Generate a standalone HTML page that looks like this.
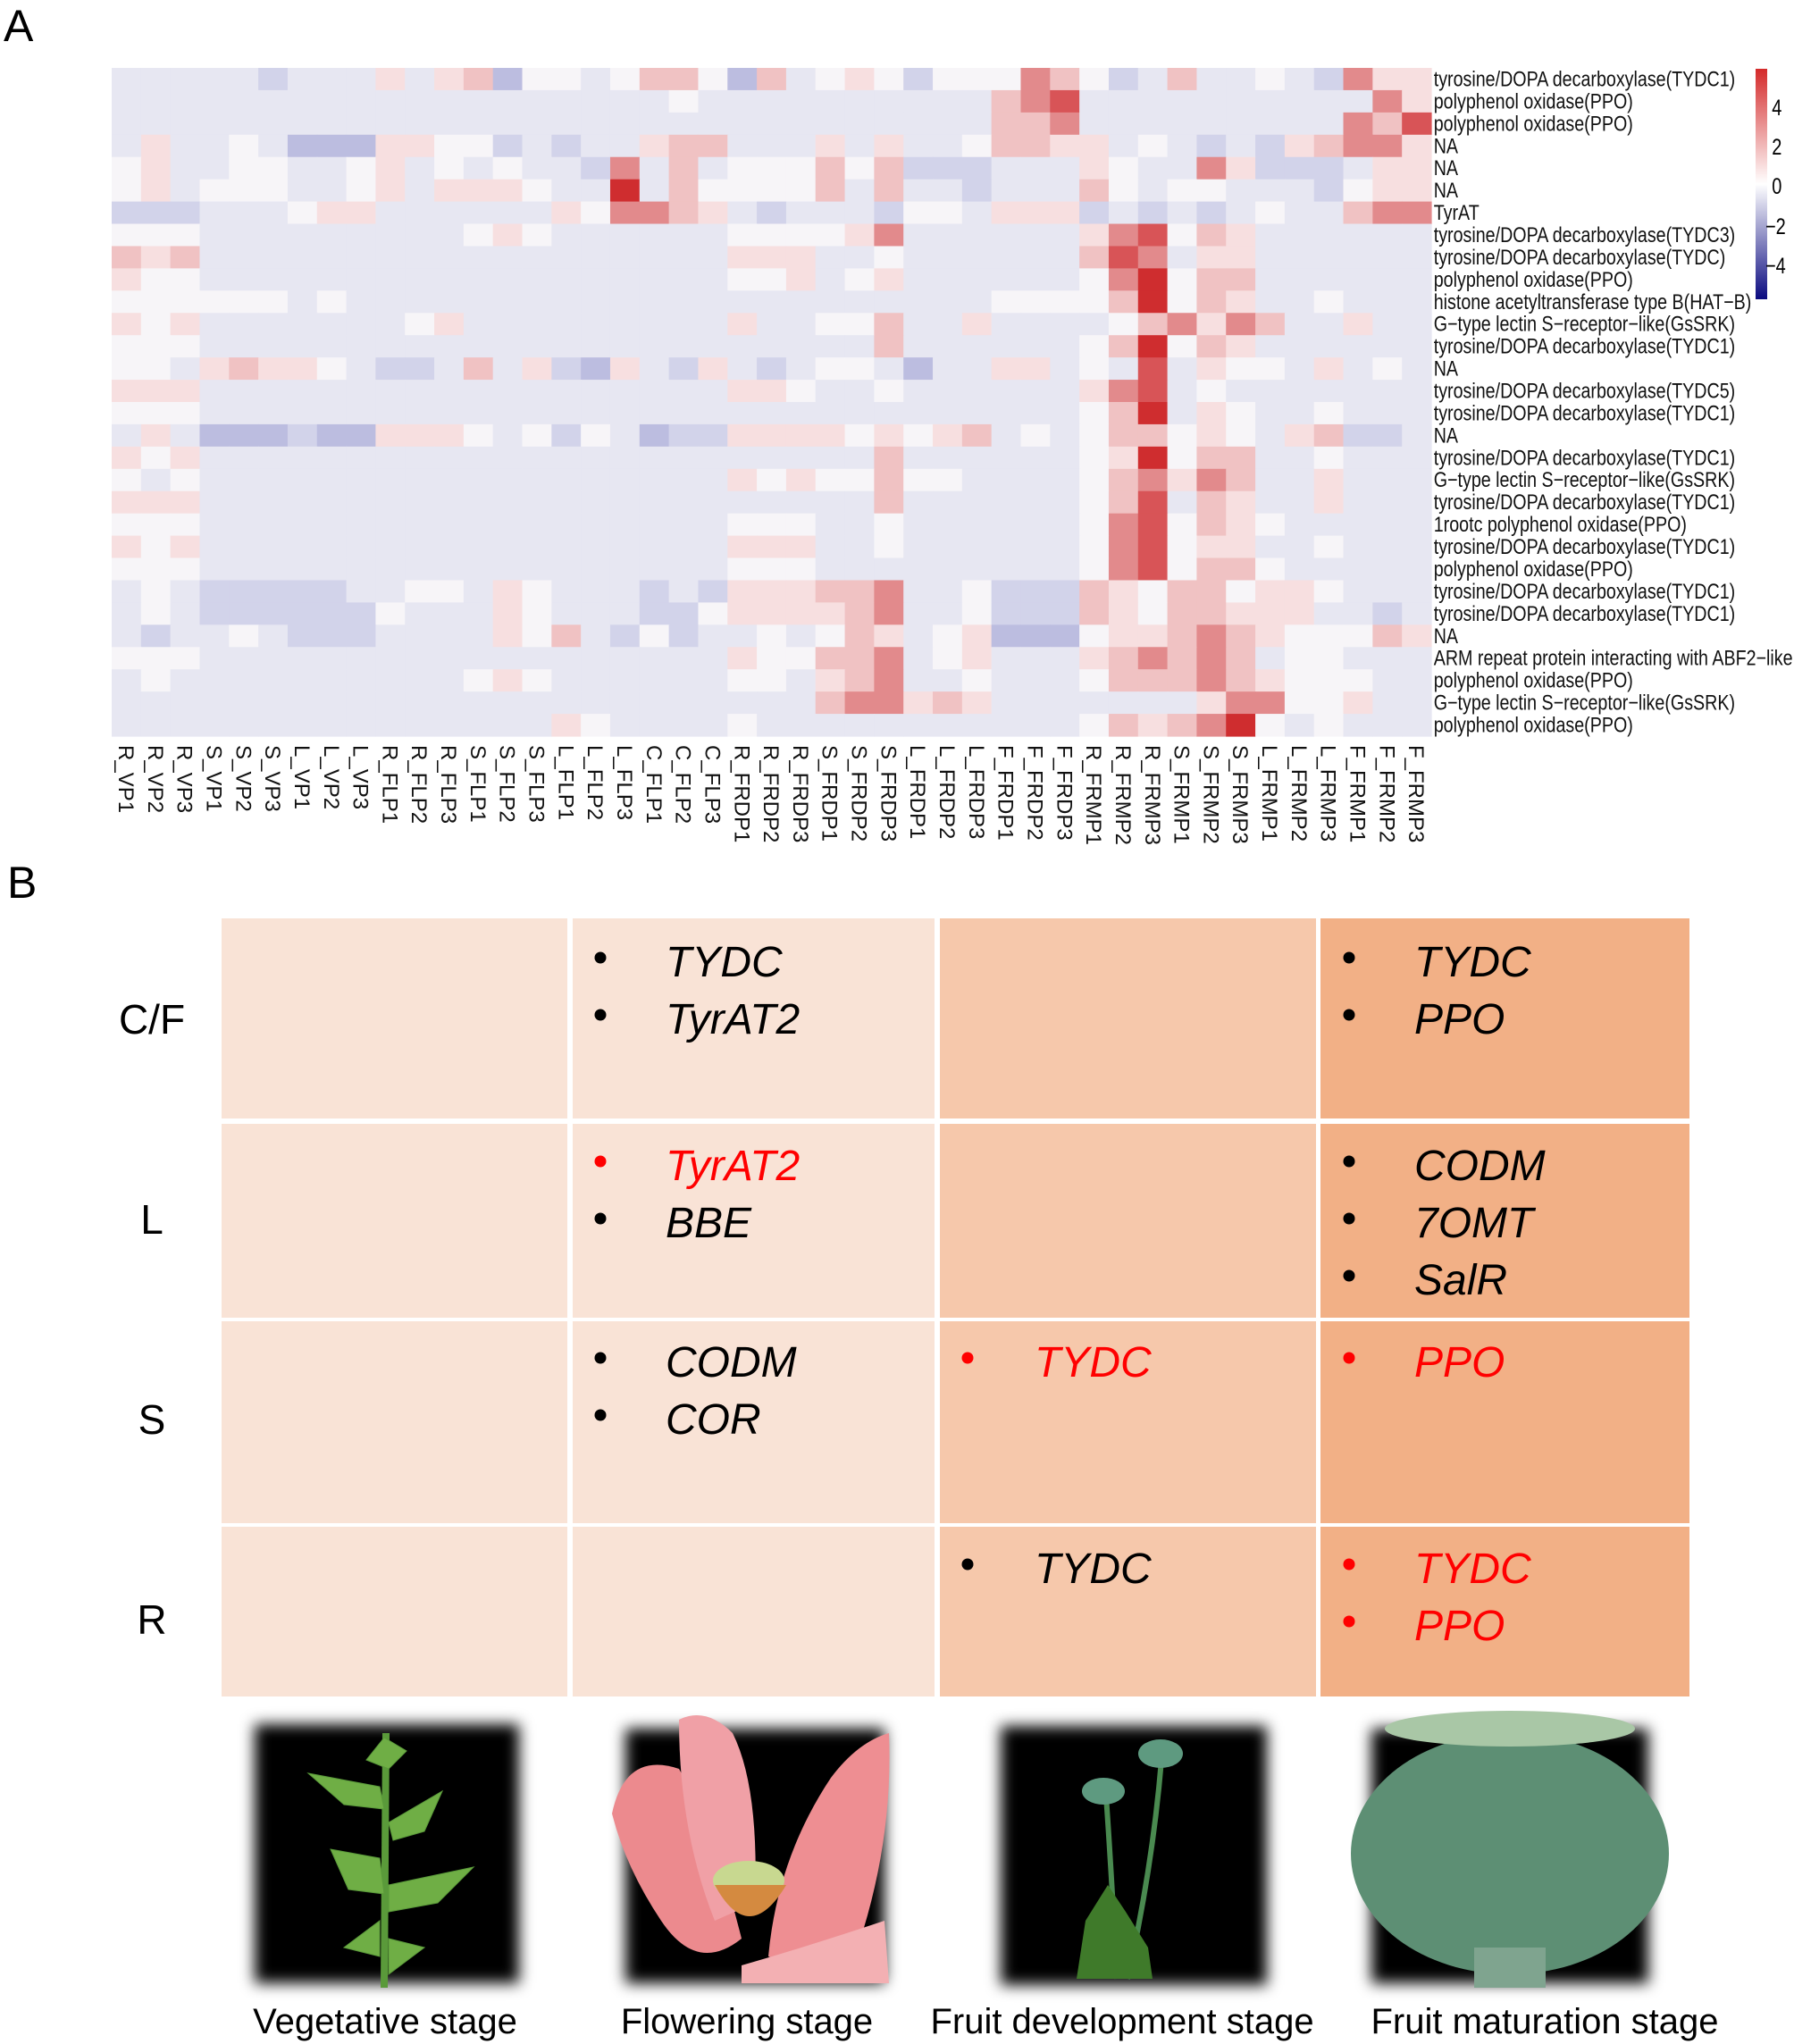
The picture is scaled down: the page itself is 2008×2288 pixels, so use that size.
<!DOCTYPE html>
<html><head><meta charset="utf-8"><style>
html,body{margin:0;padding:0;background:#fff;}
svg{display:block;font-family:"Liberation Sans",Arial,sans-serif;}
.g{font-style:italic;font-size:48px;}
</style></head><body>
<svg id="s" width="2008" height="2288" viewBox="0 0 2008 2288" xmlns="http://www.w3.org/2000/svg">
<defs>
<linearGradient id="cb" x1="0" y1="0" x2="0" y2="1">
<stop offset="0" stop-color="#d42a2a"/><stop offset="0.5" stop-color="#ffffff"/><stop offset="1" stop-color="#0a0a80"/>
</linearGradient>
<filter id="bl" x="-10%" y="-10%" width="120%" height="120%"><feGaussianBlur stdDeviation="8"/></filter>
</defs>
<text x="4" y="46" font-size="50">A</text>
<g id="hm"></g>
<rect x="1965" y="77" width="13" height="258" fill="url(#cb)"/>
<g transform="scale(0.8,1)" font-size="25">
<text x="2479" y="129">4</text><text x="2479" y="173">2</text><text x="2479" y="217">0</text>
<text x="2470" y="262">−2</text><text x="2470" y="306">−4</text>
</g>
<g transform="scale(0.82,1)" font-size="24" fill="#111">
<text x="1957" y="96.5">tyrosine/DOPA decarboxylase(TYDC1)</text>
<text x="1957" y="121.4">polyphenol oxidase(PPO)</text>
<text x="1957" y="146.4">polyphenol oxidase(PPO)</text>
<text x="1957" y="171.3">NA</text>
<text x="1957" y="196.2">NA</text>
<text x="1957" y="221.2">NA</text>
<text x="1957" y="246.1">TyrAT</text>
<text x="1957" y="271.0">tyrosine/DOPA decarboxylase(TYDC3)</text>
<text x="1957" y="295.9">tyrosine/DOPA decarboxylase(TYDC)</text>
<text x="1957" y="320.9">polyphenol oxidase(PPO)</text>
<text x="1957" y="345.8">histone acetyltransferase type B(HAT−B)</text>
<text x="1957" y="370.7">G−type lectin S−receptor−like(GsSRK)</text>
<text x="1957" y="395.7">tyrosine/DOPA decarboxylase(TYDC1)</text>
<text x="1957" y="420.6">NA</text>
<text x="1957" y="445.5">tyrosine/DOPA decarboxylase(TYDC5)</text>
<text x="1957" y="470.5">tyrosine/DOPA decarboxylase(TYDC1)</text>
<text x="1957" y="495.4">NA</text>
<text x="1957" y="520.3">tyrosine/DOPA decarboxylase(TYDC1)</text>
<text x="1957" y="545.2">G−type lectin S−receptor−like(GsSRK)</text>
<text x="1957" y="570.2">tyrosine/DOPA decarboxylase(TYDC1)</text>
<text x="1957" y="595.1">1rootc polyphenol oxidase(PPO)</text>
<text x="1957" y="620.0">tyrosine/DOPA decarboxylase(TYDC1)</text>
<text x="1957" y="645.0">polyphenol oxidase(PPO)</text>
<text x="1957" y="669.9">tyrosine/DOPA decarboxylase(TYDC1)</text>
<text x="1957" y="694.8">tyrosine/DOPA decarboxylase(TYDC1)</text>
<text x="1957" y="719.8">NA</text>
<text x="1957" y="744.7">ARM repeat protein interacting with ABF2−like</text>
<text x="1957" y="769.6">polyphenol oxidase(PPO)</text>
<text x="1957" y="794.5">G−type lectin S−receptor−like(GsSRK)</text>
<text x="1957" y="819.5">polyphenol oxidase(PPO)</text>
</g>
<g transform="rotate(90)" font-size="24" fill="#111">
<text x="834" y="-141.4" dy=".35em">R_VP1</text>
<text x="834" y="-174.2" dy=".35em">R_VP2</text>
<text x="834" y="-207.1" dy=".35em">R_VP3</text>
<text x="834" y="-239.9" dy=".35em">S_VP1</text>
<text x="834" y="-272.7" dy=".35em">S_VP2</text>
<text x="834" y="-305.5" dy=".35em">S_VP3</text>
<text x="834" y="-338.4" dy=".35em">L_VP1</text>
<text x="834" y="-371.2" dy=".35em">L_VP2</text>
<text x="834" y="-404.0" dy=".35em">L_VP3</text>
<text x="834" y="-436.8" dy=".35em">R_FLP1</text>
<text x="834" y="-469.6" dy=".35em">R_FLP2</text>
<text x="834" y="-502.5" dy=".35em">R_FLP3</text>
<text x="834" y="-535.3" dy=".35em">S_FLP1</text>
<text x="834" y="-568.1" dy=".35em">S_FLP2</text>
<text x="834" y="-600.9" dy=".35em">S_FLP3</text>
<text x="834" y="-633.7" dy=".35em">L_FLP1</text>
<text x="834" y="-666.6" dy=".35em">L_FLP2</text>
<text x="834" y="-699.4" dy=".35em">L_FLP3</text>
<text x="834" y="-732.2" dy=".35em">C_FLP1</text>
<text x="834" y="-765.0" dy=".35em">C_FLP2</text>
<text x="834" y="-797.9" dy=".35em">C_FLP3</text>
<text x="834" y="-830.7" dy=".35em">R_FRDP1</text>
<text x="834" y="-863.5" dy=".35em">R_FRDP2</text>
<text x="834" y="-896.3" dy=".35em">R_FRDP3</text>
<text x="834" y="-929.1" dy=".35em">S_FRDP1</text>
<text x="834" y="-962.0" dy=".35em">S_FRDP2</text>
<text x="834" y="-994.8" dy=".35em">S_FRDP3</text>
<text x="834" y="-1027.6" dy=".35em">L_FRDP1</text>
<text x="834" y="-1060.4" dy=".35em">L_FRDP2</text>
<text x="834" y="-1093.3" dy=".35em">L_FRDP3</text>
<text x="834" y="-1126.1" dy=".35em">F_FRDP1</text>
<text x="834" y="-1158.9" dy=".35em">F_FRDP2</text>
<text x="834" y="-1191.7" dy=".35em">F_FRDP3</text>
<text x="834" y="-1224.5" dy=".35em">R_FRMP1</text>
<text x="834" y="-1257.4" dy=".35em">R_FRMP2</text>
<text x="834" y="-1290.2" dy=".35em">R_FRMP3</text>
<text x="834" y="-1323.0" dy=".35em">S_FRMP1</text>
<text x="834" y="-1355.8" dy=".35em">S_FRMP2</text>
<text x="834" y="-1388.6" dy=".35em">S_FRMP3</text>
<text x="834" y="-1421.5" dy=".35em">L_FRMP1</text>
<text x="834" y="-1454.3" dy=".35em">L_FRMP2</text>
<text x="834" y="-1487.1" dy=".35em">L_FRMP3</text>
<text x="834" y="-1519.9" dy=".35em">F_FRMP1</text>
<text x="834" y="-1552.8" dy=".35em">F_FRMP2</text>
<text x="834" y="-1585.6" dy=".35em">F_FRMP3</text>
</g>

<!-- Panel B -->
<text x="8" y="1005" font-size="50">B</text>
<rect x="248" y="1028" width="387" height="224" fill="#f9e3d6"/>
<rect x="641" y="1028" width="405" height="224" fill="#f9e3d6"/>
<rect x="1052" y="1028" width="421" height="224" fill="#f6c8ab"/>
<rect x="1478" y="1028" width="413" height="224" fill="#f2b086"/>
<rect x="248" y="1258" width="387" height="217" fill="#f9e3d6"/>
<rect x="641" y="1258" width="405" height="217" fill="#f9e3d6"/>
<rect x="1052" y="1258" width="421" height="217" fill="#f6c8ab"/>
<rect x="1478" y="1258" width="413" height="217" fill="#f2b086"/>
<rect x="248" y="1479" width="387" height="226" fill="#f9e3d6"/>
<rect x="641" y="1479" width="405" height="226" fill="#f9e3d6"/>
<rect x="1052" y="1479" width="421" height="226" fill="#f6c8ab"/>
<rect x="1478" y="1479" width="413" height="226" fill="#f2b086"/>
<rect x="248" y="1709" width="387" height="190" fill="#f9e3d6"/>
<rect x="641" y="1709" width="405" height="190" fill="#f9e3d6"/>
<rect x="1052" y="1709" width="421" height="190" fill="#f6c8ab"/>
<rect x="1478" y="1709" width="413" height="190" fill="#f2b086"/>

<g font-size="46" text-anchor="middle">
<text x="170" y="1157">C/F</text><text x="170" y="1381">L</text>
<text x="170" y="1605">S</text><text x="170" y="1829">R</text>
</g>
<g class="g">
<circle cx="672" cy="1072" r="6.5"/><text x="745" y="1093">TYDC</text>
<circle cx="672" cy="1136" r="6.5"/><text x="745" y="1157">TyrAT2</text>
<circle cx="672" cy="1300" r="6.5" fill="#f00"/><text x="745" y="1321" fill="#f00">TyrAT2</text>
<circle cx="672" cy="1364" r="6.5"/><text x="745" y="1385">BBE</text>
<circle cx="672" cy="1520" r="6.5"/><text x="745" y="1541">CODM</text>
<circle cx="672" cy="1584" r="6.5"/><text x="745" y="1605">COR</text>
<circle cx="1083" cy="1520" r="6.5" fill="#f00"/><text x="1158" y="1541" fill="#f00">TYDC</text>
<circle cx="1083" cy="1751" r="6.5"/><text x="1158" y="1772">TYDC</text>
<circle cx="1510" cy="1072" r="6.5"/><text x="1583" y="1093">TYDC</text>
<circle cx="1510" cy="1136" r="6.5"/><text x="1583" y="1157">PPO</text>
<circle cx="1510" cy="1300" r="6.5"/><text x="1583" y="1321">CODM</text>
<circle cx="1510" cy="1364" r="6.5"/><text x="1583" y="1385">7OMT</text>
<circle cx="1510" cy="1428" r="6.5"/><text x="1583" y="1449">SalR</text>
<circle cx="1510" cy="1520" r="6.5" fill="#f00"/><text x="1583" y="1541" fill="#f00">PPO</text>
<circle cx="1510" cy="1751" r="6.5" fill="#f00"/><text x="1583" y="1772" fill="#f00">TYDC</text>
<circle cx="1510" cy="1815" r="6.5" fill="#f00"/><text x="1583" y="1836" fill="#f00">PPO</text>
</g>

<!-- photos -->
<rect x="285" y="1930" width="296" height="290" fill="#000" filter="url(#bl)"/>
<g stroke="#5a9a3a" fill="#6fae45">
<path d="M430 2225 L432 1940" stroke-width="8" fill="none"/>
<path d="M430 1945 l-20 25 l25 10 l20 -20 z"/>
<path d="M425 2000 l-80 -15 l40 35 l45 5 z"/>
<path d="M435 2040 l60 -35 l-20 45 l-35 10 z"/>
<path d="M425 2080 l-55 -10 l20 45 l40 5 z"/>
<path d="M435 2110 l95 -20 l-40 40 l-55 10 z"/>
<path d="M425 2150 l-40 30 l40 10 z"/>
<path d="M435 2170 l40 10 l-40 30 z"/>
</g>
<rect x="700" y="1935" width="290" height="285" fill="#000" filter="url(#bl)"/>
<g>
<path d="M685 2030 Q700 1960 760 1980 Q800 2050 830 2170 Q780 2210 740 2150 Q700 2090 685 2030 z" fill="#ec8a8e"/>
<path d="M760 1925 Q790 1910 820 1940 Q850 2000 845 2130 L800 2150 Q760 2050 760 1925 z" fill="#f0a0a6"/>
<path d="M995 1940 Q1000 2060 960 2180 Q900 2210 860 2190 Q870 2080 930 1990 Q960 1950 995 1940 z" fill="#ee8e92"/>
<path d="M830 2200 Q900 2180 990 2150 L995 2220 L830 2220 z" fill="#f3b0b3"/>
<ellipse cx="838" cy="2105" rx="40" ry="22" fill="#c8d890"/>
<path d="M800 2110 Q838 2180 880 2110 Z" fill="#d48a40"/>
</g>
<rect x="1120" y="1932" width="298" height="290" fill="#000" filter="url(#bl)"/>
<g>
<path d="M1238 2010 Q1245 2110 1250 2215" stroke="#4a8a50" stroke-width="6" fill="none"/>
<path d="M1300 1970 Q1290 2090 1262 2215" stroke="#4a8a50" stroke-width="6" fill="none"/>
<ellipse cx="1235" cy="2005" rx="24" ry="15" fill="#5e9a80"/>
<ellipse cx="1299" cy="1963" rx="25" ry="16" fill="#5e9a80"/>
<path d="M1205 2215 L1215 2150 L1240 2110 L1260 2140 L1285 2180 L1290 2215 Z" fill="#3f7a2a"/>
</g>
<rect x="1535" y="1935" width="310" height="285" fill="#000" filter="url(#bl)"/>
<g>
<ellipse cx="1690" cy="2075" rx="178" ry="135" fill="#5d8f74"/>
<ellipse cx="1690" cy="1935" rx="140" ry="20" fill="#a9c7a6"/>
<rect x="1650" y="2180" width="80" height="45" fill="#7fa48f"/>
</g>

<g font-size="40" text-anchor="middle">
<text x="431" y="2276">Vegetative stage</text>
<text x="836" y="2276">Flowering stage</text>
<text x="1256" y="2276">Fruit development stage</text>
<text x="1729" y="2276">Fruit maturation stage</text>
</g>
</svg>
<script>
var L18="llllllllllllllllll";
var rows=[
["lllllblllplpqBwwlwqqwBqlwpw","bwwwrqwblqllwlbrpp"],
["lllllllllllllllllllwlllllll","lllqrRllllllllllrpr".slice(0,18)],
["lllllllllllllllllllllllllll","lllqqrlllllllllrqR"],
["lpllwlBBBppwwblbllpqqlllplp","llwqqpplwlblbpqrrp"],
["wpllwwllwplwlwllbrlqlwwwqwq","bbblllpwllrpbbblpp"],
["wplwwwllwplpppwllDlqwwwwqlq","llblllqwlwwlllbwpp"],
["bbblllwppllllllpwrrqplblllb","wwlpppblblblwllqrr"],
["wwwlllllllllwpwllllllwwwwpr","llllllprRwqpllllll"],
["qpq"+L18+"pppllw","llllllqRrlppllllll"],
["pwwlll"+"lllllllllllllll"+"wwplwp","llllllwrDwqqllllll"],
["wwwwwwlwl"+L18,"lllwwwwqDwqpllwlll"],
["pwplllllllwplllllllllpllwwq","llpllllwqrprqllplll".slice(0,18)],
["www"+L18+"lllllq","llllllwqDwqpllllll"],
["wwlpqppwlbblqlpbBplbplblwwl","BllpplwlRlpwwlplwl"],
["ppp"+L18+"ppwllw","llllllprRlwlllllll"],
["www"+L18+"llllllw","llllllwqDlpwllwlll"],
["lplBBBbBBpppwlwbwlBbbppppwp","wpqlwlwqqwpwlpqbbl"],
["pwp"+L18+"lllllq","llllllwpDwqqllwlll"],
["wlw"+L18+"pwpwwq","wwllllwqrprqllplll"],
["ppp"+L18+"lllllq","llllllwqRlqpllplll"],
["www"+L18+"wwwllw","llllllwrRwqpwlllll"],
["pwp"+L18+"pppllw","llllllwrRwppllwlll"],
["www"+L18+"wwwlll","llllllwrRwqqwlllll"],
["lwlbbbbbllwwlpwlllblbpppqqr","llwbbbqpwqqwppwlll"],
["lwlbbbbbbwlllpwlllbbwppppqr","llwbbbqpwqqpppllbl"],
["lbllwlbbbllllpwqlbwbllwlwqpq","lwpBBBwppqrqpwwwqp"],
["wwwllllllllllllllllllpwwqqr","lwplllpqrqrqlwwlll"],
["lwllllllllllwpwllllllwwlpqr","llwlllwqqqrqpwwwll"],
["llllllllllllllllllllllllqrr","pqplllllllprrwwplll".slice(0,18)],
["lllllllllllllllpwllllwllllll","llllllwqpqrDwlwlll"]
];
var col={l:"#e7e7f2",b:"#d2d3ea",B:"#bcbde0",w:"#f7f5f8",p:"#f7dfe0",q:"#f0c2c3",r:"#e28a8c",R:"#d85457",D:"#cf2d2f"};
function fit(s,n){s=s.slice(0,n);while(s.length<n)s+="l";return s;}
var g=document.getElementById("hm"),ns="http://www.w3.org/2000/svg",cw=1477/45,rh=748/30;
for(var i=0;i<30;i++){var s=fit(rows[i][0],27)+fit(rows[i][1],18);for(var j=0;j<45;j++){var c=s.charAt(j);
var r=document.createElementNS(ns,"rect");r.setAttribute("x",(125+j*cw).toFixed(2));r.setAttribute("y",(76+i*rh).toFixed(2));
r.setAttribute("width",(cw+0.6).toFixed(2));r.setAttribute("height",(rh+0.6).toFixed(2));r.setAttribute("fill",col[c]||col.l);g.appendChild(r);}}
</script>
</body></html>
